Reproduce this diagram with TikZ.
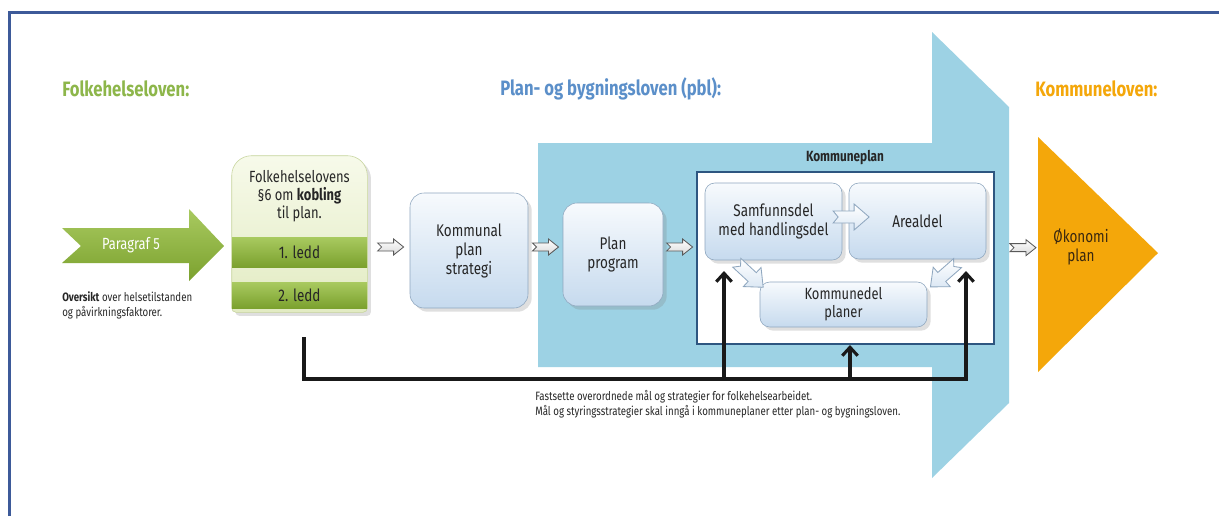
\documentclass[tikz,border=0pt]{standalone}
\usepackage{fontspec}
\setmainfont{Fira Sans}[FakeStretch=0.8]
\usetikzlibrary{arrows.meta,shadows}

\definecolor{framecol}{HTML}{3D5A99}
\definecolor{pblblue}{HTML}{9DD2E4}
\definecolor{fhgreen}{HTML}{8DB64A}
\definecolor{pbltitle}{HTML}{5B8FC9}
\definecolor{klorange}{HTML}{F4A70A}
\definecolor{boxtop}{HTML}{F7FAFD}
\definecolor{boxbot}{HTML}{C6DAEE}
\definecolor{boxedge}{HTML}{8FA7BF}
\definecolor{kpedge}{HTML}{2E5680}
\definecolor{bigfill}{HTML}{DCE8F4}
\definecolor{fhtop}{HTML}{F7FAEA}
\definecolor{fhbot}{HTML}{E2EBC2}
\definecolor{fhedge}{HTML}{C6D49C}
\definecolor{leddtop}{HTML}{A9CA60}
\definecolor{leddbot}{HTML}{7BA12E}
\definecolor{okotext}{HTML}{3A2810}

\def\px{0.025cm}

\tikzset{
  lawtitle/.style={anchor=west, inner sep=0pt, font=\fontsize{14.8}{16}\selectfont\bfseries},
  planbox/.style={draw=boxedge, top color=boxtop, bottom color=boxbot,
    rounded corners=10pt, align=center, text=black!85, inner sep=0pt,
    font=\fontsize{12}{13.5}\selectfont, drop shadow={opacity=.25}},
  kpbox/.style={planbox, rounded corners=7pt},
  ledd/.style={top color=leddtop, bottom color=leddbot, text=black!85,
    minimum width=135*\px, inner sep=0pt, font=\fontsize{12}{13}\selectfont},
  smalltxt/.style={anchor=north west, align=left, text=black!85, inner sep=0pt,
    font=\fontsize{8.6}{10.7}\selectfont},
  fbline/.style={line width=2.2pt, black!90},
  fbarrow/.style={fbline, -{Straight Barb[length=6pt,width=11pt]}},
  harrow/.pic={\draw[draw=black!65, top color=white, bottom color=black!15, line width=.6pt]
    (-13,-4) -- (3,-4) -- (3,-8) -- (13,0) -- (3,8) -- (3,4) -- (-13,4) -- (-9,0) -- cycle;},
  hbig/.pic={\draw[draw=boxedge, top color=white, bottom color=bigfill, line width=.6pt]
    (-18,-6) -- (3,-6) -- (3,-13) -- (18,0) -- (3,13) -- (3,6) -- (-18,6) -- (-13,0) -- cycle;}
}

\begin{document}
\begin{tikzpicture}[x=0.025cm,y=-0.025cm]
  \useasboundingbox (0,0) rectangle (1219,516);
  \fill[white] (0,0) rectangle (1219,516);
  \draw[framecol, line width=2.2pt] (9.5,516) -- (9.5,12.5) -- (1219,12.5);

  % big pbl arrow
  \fill[pblblue] (538,143) -- (932,143) -- (932,32) -- (1009,107) -- (1009,403)
    -- (932,478) -- (932,367) -- (538,367) -- cycle;

  % titles
  \node[lawtitle, text=fhgreen] (tfh) at (62,89) {Folkehelseloven:};
  \node[lawtitle, text=pbltitle] (tpbl) at (500,89) {Plan- og bygningsloven (pbl):};
  \node[lawtitle, text=klorange] (tkl) at (1035,89) {Kommuneloven:};

  % Paragraf 5
  \shade[top color=leddtop, bottom color=leddbot] (62,228) -- (189,228) -- (189,209)
    -- (224,246) -- (189,281) -- (189,263) -- (62,263) -- (81,246) -- cycle;
  \node[text=white, font=\fontsize{11.5}{13}\selectfont] (p5) at (131,245) {Paragraf 5};
  \node[smalltxt] (oversikt) at (62,291) {\textbf{Oversikt} over helsetilstanden\\og påvirkningsfaktorer.};

  % Folkehelselovens boks
  \node[minimum width=135*\px, minimum height=156*\px, inner sep=0pt] (fh) at (299.5,234) {};
  \draw[fhedge, top color=fhtop, bottom color=fhbot, drop shadow={opacity=.25}]
    (fh.west) [rounded corners=14pt] -- (fh.north west) -- (fh.north east) -- (fh.east)
    [rounded corners=3pt] -- (fh.south east) -- (fh.south west) -- cycle;
  \node[align=center, text=black!85, font=\fontsize{11.5}{12.8}\selectfont] (fhtxt) at (299.5,196)
    {Folkehelselovens\\§6 om \textbf{kobling}\\til plan.};
  \node[ledd, minimum height=30*\px] (ledd1) at (299.5,252) {1. ledd};
  \node[ledd, minimum height=26*\px] (ledd2) at (299.5,295) {2. ledd};

  % planprosess
  \node[planbox, minimum width=118*\px, minimum height=115*\px] (kps) at (469,250.5)
    {Kommunal\\plan\\strategi};
  \node[planbox, minimum width=100*\px, minimum height=103*\px] (pp) at (613,254.5)
    {Plan\\program};
  \node[draw=kpedge, fill=white, line width=1.5pt, minimum width=297*\px,
    minimum height=172*\px, inner sep=0pt] (kp) at (845.5,258) {};
  \node[font=\fontsize{10.5}{12}\selectfont\bfseries, text=black!85] (kptitle) at (845,158) {Kommuneplan};
  \node[kpbox, minimum width=137*\px, minimum height=77*\px] (sd) at (773.5,221.5)
    {Samfunnsdel\\med handlingsdel};
  \node[kpbox, minimum width=137*\px, minimum height=76*\px] (ad) at (917.5,221) {Arealdel};
  \node[kpbox, minimum width=167*\px, minimum height=45*\px, font=\fontsize{11.5}{13}\selectfont]
    (kdp) at (843.5,304.5) {Kommunedel\\planer};

  % Okonomiplan
  \fill[klorange] (1038,137) -- (1158,253) -- (1038,372) -- cycle;
  \coordinate (okleft) at (1038,248);
  \node[align=center, text=okotext, font=\fontsize{12}{14}\selectfont] (oko) at (1081,247) {Økonomi\\plan};

  % piler mellom boksene
  \coordinate (flow) at (0,247);
  \path (fh.east |- flow) -- (kps.west |- flow) pic[pos=.55]{harrow};
  \path (kps.east |- flow) -- (pp.west |- flow) pic[pos=.5]{harrow};
  \path (pp.east |- flow) -- (kp.west |- flow) pic[pos=.5]{harrow};
  \path (kp.east |- flow) -- (okleft) pic[pos=.65]{harrow};
  \path (sd.east |- 0,217) -- (ad.west |- 0,217) pic[pos=.5, xshift=4pt]{hbig};
  \coordinate (sdout) at (736,262);
  \coordinate (kdpinl) at (764,288);
  \coordinate (adout) at (960,261);
  \coordinate (kdpinr) at (928,289);
  \path (sdout) -- (kdpinl) pic[pos=.5, sloped, allow upside down]{hbig};
  \path (adout) -- (kdpinr) pic[pos=.5, sloped, allow upside down]{hbig};

  % tilbakekobling
  \coordinate (fbstart) at (304,337);
  \coordinate (fbbase) at (0,379);
  \coordinate (fbtipl) at (724,271);
  \coordinate (fbtipr) at (966,271);
  \coordinate (fbtipm) at (850,345);
  \draw[fbarrow] (fbstart) |- (fbtipr |- fbbase) -- (fbtipr);
  \draw[fbarrow] (fbtipl |- fbbase) -- (fbtipl);
  \draw[fbarrow] (fbtipm |- fbbase) -- (fbtipm);

  \node[smalltxt] (goal) at (535,390) {Fastsette overordnede mål og strategier for folkehelsearbeidet.\\
    Mål og styringsstrategier skal inngå i kommuneplaner etter plan- og bygningsloven.};
\end{tikzpicture}
\end{document}
